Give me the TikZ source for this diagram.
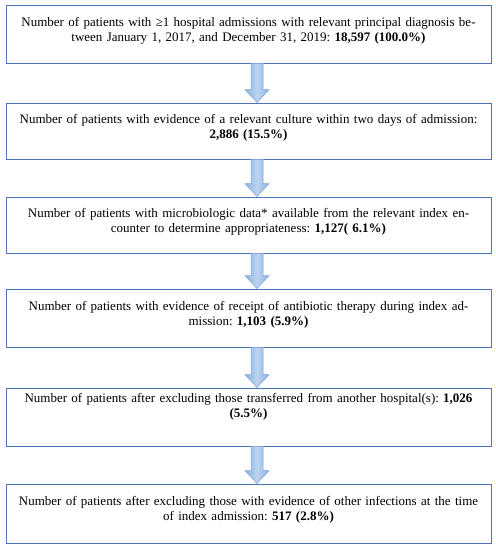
\documentclass[tikz,border=0pt]{standalone}
\usepackage{fontspec}
\setmainfont{Liberation Serif}
\usetikzlibrary{calc}
\definecolor{boxline}{HTML}{4F73B8}
\definecolor{arrline}{HTML}{7EA6D8}
\definecolor{arrside}{HTML}{8CB3E2}
\definecolor{arrmid}{HTML}{BCD4F0}
\tikzset{
  box/.style={draw=boxline, line width=0.8pt, rectangle, minimum width=485pt, inner sep=0pt},
  txt/.style={anchor=north, align=center, text width=484pt, inner sep=0pt, font=\fontsize{13}{15}\selectfont\frenchspacing},
  bigarrow/.style={draw=arrline, line width=0.5pt, left color=arrside, right color=arrside, middle color=arrmid}
}
\newcommand{\flowarrow}[2]{%
  \path[bigarrow] ([xshift=2.5pt]#1.south) -- ([xshift=2.5pt,yshift=13pt]#2.north) -- ([xshift=-3.5pt,yshift=13pt]#2.north) -- ([xshift=8.5pt]#2.north) -- ([xshift=20.5pt,yshift=13pt]#2.north) -- ([xshift=14.5pt,yshift=13pt]#2.north) -- ([xshift=14.5pt]#1.south) -- cycle;}
\begin{document}
\begin{tikzpicture}[x=1pt,y=1pt]
\useasboundingbox (0,0) rectangle (496,550);
% boxes (y from top: top/bottom)
\node[box, minimum height=58pt] (b1) at (248.5,{550-34}) {};
\node[box, minimum height=56pt] (b2) at (248.5,{550-131}) {};
\node[box, minimum height=56pt] (b3) at (248.5,{550-225}) {};
\node[box, minimum height=58pt] (b4) at (248.5,{550-318}) {};
\node[box, minimum height=58pt] (b5) at (248.5,{550-417}) {};
\node[box, minimum height=59pt] (b6) at (248.5,{550-513.5}) {};
% texts
\node[txt] (t1) at ([yshift=-12.5pt]b1.north) {Number of patients with ≥1 hospital admissions with relevant principal diagnosis be-\\tween January 1, 2017, and December 31, 2019: \textbf{18,597 (100.0\%)}};
\node[txt] (t2) at ([yshift=-11.5pt]b2.north) {Number of patients with evidence of a relevant culture within two days of admission:\\\textbf{2,886 (15.5\%)}};
\node[txt] (t3) at ([yshift=-11.5pt]b3.north) {Number of patients with microbiologic data* available from the relevant index en-\\counter to determine appropriateness: \textbf{1,127( 6.1\%)}};
\node[txt] (t4) at ([yshift=-12.5pt]b4.north) {Number of patients with evidence of receipt of antibiotic therapy during index ad-\\mission: \textbf{1,103 (5.9\%)}};
\node[txt] (t5) at ([yshift=-6pt]b5.north) {Number of patients after excluding those transferred from another hospital(s): \textbf{1,026}\\\textbf{(5.5\%)}};
\node[txt] (t6) at ([yshift=-12.5pt]b6.north) {Number of patients after excluding those with evidence of other infections at the time\\of index admission: \textbf{517 (2.8\%)}};
% arrows
\flowarrow{b1}{b2}
\flowarrow{b2}{b3}
\flowarrow{b3}{b4}
\flowarrow{b4}{b5}
\flowarrow{b5}{b6}
\end{tikzpicture}
\end{document}
